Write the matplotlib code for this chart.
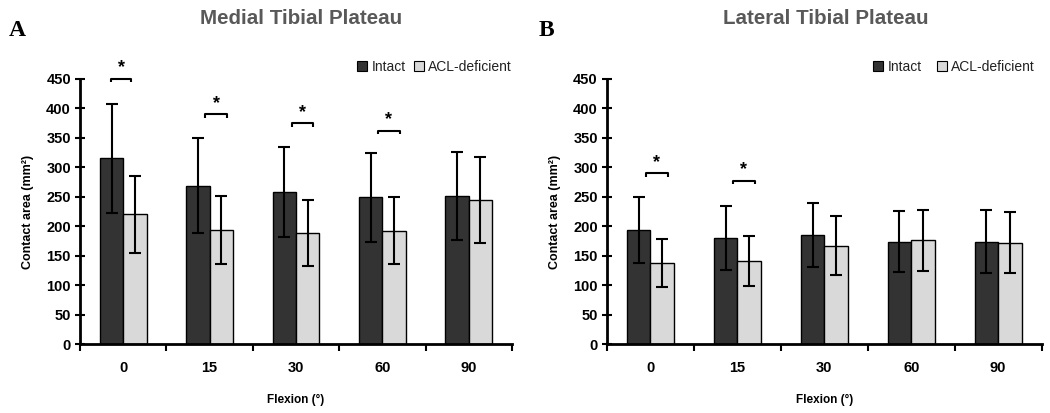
import numpy as np
import matplotlib
matplotlib.use("Agg")
import matplotlib.pyplot as plt
from matplotlib.lines import Line2D

plt.rcParams['font.family'] = ['Liberation Sans', 'DejaVu Sans']

flexion = ['0', '15', '30', '60', '90']

medial_intact = [315, 269, 258, 249, 251]
medial_intact_sd = [93, 81, 77, 75, 75]
medial_acl = [220, 194, 188, 192, 244]
medial_acl_sd = [66, 58, 56, 57, 73]

lateral_intact = [194, 180, 185, 174, 174]
lateral_intact_sd = [56, 54, 54, 52, 53]
lateral_acl = [138, 141, 167, 176, 172]
lateral_acl_sd = [41, 43, 50, 52, 52]

# significance brackets: (category index, height)
medial_sig = [(0, 450), (1, 390), (2, 375), (3, 362)]
lateral_sig = [(0, 290), (1, 277)]

dark = '#333333'
light = '#d9d9d9'


def draw_panel(ax, intact, intact_sd, acl, acl_sd, sig, letter, leg_x, colspace):
    x = np.arange(len(flexion))
    w = 0.27
    ax.bar(x - w / 2, intact, w, color=dark, edgecolor='black', linewidth=1.0, zorder=2)
    ax.bar(x + w / 2, acl, w, color=light, edgecolor='black', linewidth=1.0, zorder=2)
    ax.errorbar(x - w / 2, intact, yerr=intact_sd, fmt='none', ecolor='black',
                elinewidth=1.5, capsize=4, capthick=1.5, zorder=3)
    ax.errorbar(x + w / 2, acl, yerr=acl_sd, fmt='none', ecolor='black',
                elinewidth=1.5, capsize=4, capthick=1.5, zorder=3)

    for i, h in sig:
        left, right = (i - 0.14, i + 0.09) if (letter == 'A' and i == 0) else (i - 0.05, i + 0.2)
        ax.plot([left, left, right, right], [h - 6, h, h, h - 6], color='black', lw=1.5,
                clip_on=False, solid_capstyle='butt')
        ax.text((left + right) / 2, h + 4, '*', ha='center', va='bottom', fontsize=13,
                fontweight='bold', clip_on=False)

    ax.set_xlim(-0.5, len(flexion) - 0.5)
    ax.set_ylim(0, 450)
    ax.set_yticks(np.arange(0, 451, 50))
    ax.set_xticks(x)
    ax.set_xticklabels(flexion)
    ax.set_xticks(np.arange(-0.5, len(flexion), 1.0), minor=True)
    ax.tick_params(axis='x', which='major', length=0, pad=12, labelsize=10.5)
    ax.tick_params(axis='x', which='minor', direction='out', length=5, width=1.5)
    ax.tick_params(axis='y', direction='inout', length=7, width=1.5, labelsize=10.5, pad=3)
    for lab in ax.get_xticklabels() + ax.get_yticklabels():
        lab.set_fontweight('bold')
    for s in ['top', 'right']:
        ax.spines[s].set_visible(False)
    for s in ['left', 'bottom']:
        ax.spines[s].set_linewidth(2)
    ax.set_ylabel('Contact area (mm²)', fontsize=9, fontweight='bold', labelpad=9)
    ax.set_xlabel('Flexion (°)', fontsize=8.5, fontweight='bold', labelpad=14)

    handles = [Line2D([], [], marker='s', ls='none', markersize=7, markerfacecolor=dark,
                      markeredgecolor='black', markeredgewidth=0.8),
               Line2D([], [], marker='s', ls='none', markersize=7, markerfacecolor=light,
                      markeredgecolor='black', markeredgewidth=0.8)]
    leg = ax.legend(handles, ['Intact', 'ACL-deficient'], ncol=2, frameon=False,
                    loc='lower right', bbox_to_anchor=(leg_x, 1.02), fontsize=10,
                    handlelength=0.8, handletextpad=0.3, columnspacing=colspace,
                    borderaxespad=0, borderpad=0)
    for t in leg.get_texts():
        t.set_color('#222222')


fig = plt.figure(figsize=(10.5, 4.13), dpi=100)
ax1 = fig.add_axes([0.0762, 0.167, 0.4114, 0.642])
ax2 = fig.add_axes([0.578, 0.167, 0.414, 0.642])

draw_panel(ax1, medial_intact, medial_intact_sd, medial_acl, medial_acl_sd,
           medial_sig, 'A', 1.0, 0.5)
draw_panel(ax2, lateral_intact, lateral_intact_sd, lateral_acl, lateral_acl_sd,
           lateral_sig, 'B', 0.985, 1.0)

fig.text(0.287, 0.955, 'Medial Tibial Plateau', ha='center', va='center', fontsize=14.8,
         fontweight='bold', color='#595959')
fig.text(0.786, 0.955, 'Lateral Tibial Plateau', ha='center', va='center', fontsize=14.8,
         fontweight='bold', color='#595959')
fig.text(0.016, 0.925, 'A', ha='center', va='center', fontsize=17, fontweight='bold',
         family='Liberation Serif')
fig.text(0.52, 0.925, 'B', ha='center', va='center', fontsize=17, fontweight='bold',
         family='Liberation Serif')

fig.savefig('out.png', dpi=100)
